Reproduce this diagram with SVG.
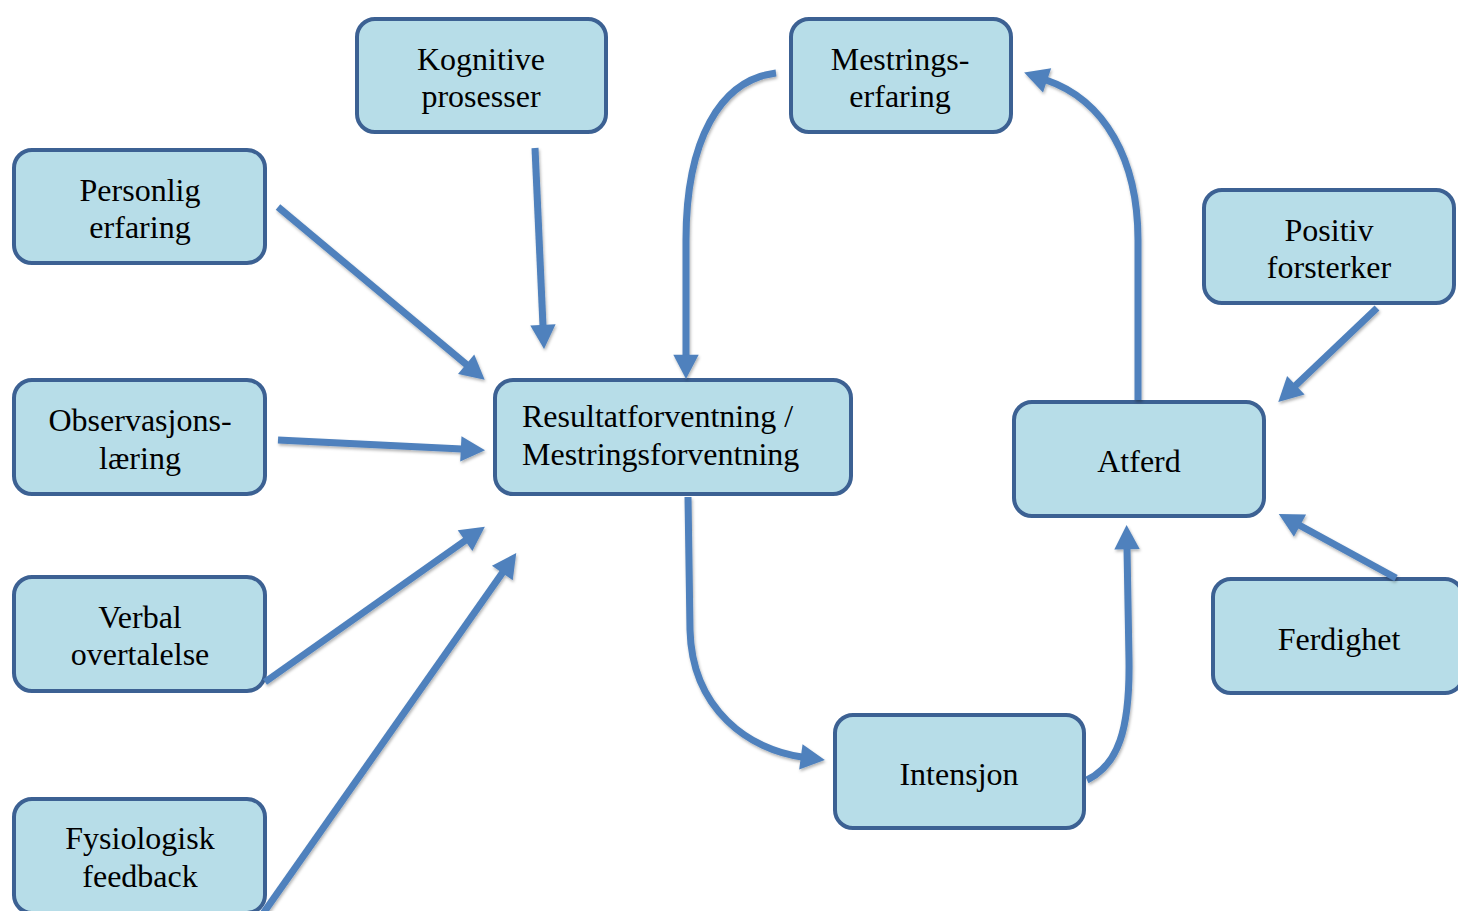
<svg xmlns="http://www.w3.org/2000/svg" width="1458" height="911" viewBox="0 0 1458 911">
<style>
.box{fill:#b7dde8;stroke:#3c6193;stroke-width:4}
.lbl{font-family:"Liberation Serif","Times New Roman",serif;font-size:32px;fill:#000;text-anchor:middle}
.lft{text-anchor:start}
.con{fill:none;stroke:#4f81bd;stroke-width:7;marker-end:url(#ah)}
</style>
<defs>
<marker id="ah" markerUnits="userSpaceOnUse" markerWidth="30" markerHeight="30" viewBox="-2 -13 26 26" refX="1" refY="0" orient="auto">
<path d="M0,-11 L21,0 L0,11 z" fill="#4f81bd"/>
</marker>
<filter id="sh" filterUnits="userSpaceOnUse" x="0" y="0" width="1458" height="911">
<feDropShadow dx="1" dy="2" stdDeviation="1.5" flood-color="#000" flood-opacity="0.3"/>
</filter>
</defs>
<g id="n-kognitive"><rect class="box" x="357" y="19" width="249" height="113" rx="18"/><text class="lbl" x="481" y="70">Kognitive</text><text class="lbl" x="481" y="107">prosesser</text></g>
<g id="n-personlig"><rect class="box" x="14" y="150" width="251" height="113" rx="18"/><text class="lbl" x="140" y="201">Personlig</text><text class="lbl" x="140" y="238">erfaring</text></g>
<g id="n-observasjon"><rect class="box" x="14" y="380" width="251" height="114" rx="18"/><text class="lbl" x="140" y="431">Observasjons-</text><text class="lbl" x="140" y="469">læring</text></g>
<g id="n-verbal"><rect class="box" x="14" y="577" width="251" height="114" rx="18"/><text class="lbl" x="140" y="628">Verbal</text><text class="lbl" x="140" y="665">overtalelse</text></g>
<g id="n-fysiologisk"><rect class="box" x="14" y="799" width="251" height="114" rx="18"/><text class="lbl" x="140" y="849">Fysiologisk</text><text class="lbl" x="140" y="887">feedback</text></g>
<g id="n-resultat"><rect class="box" x="495" y="380" width="356" height="114" rx="18"/><text class="lbl lft" x="522" y="427">Resultatforventning /</text><text class="lbl lft" x="522" y="465">Mestringsforventning</text></g>
<g id="n-mestring"><rect class="box" x="791" y="19" width="220" height="113" rx="18"/><text class="lbl" x="900" y="70">Mestrings-</text><text class="lbl" x="900" y="107">erfaring</text></g>
<g id="n-atferd"><rect class="box" x="1014" y="402" width="250" height="114" rx="18"/><text class="lbl" x="1139" y="472">Atferd</text></g>
<g id="n-positiv"><rect class="box" x="1204" y="190" width="250" height="113" rx="18"/><text class="lbl" x="1329" y="241">Positiv</text><text class="lbl" x="1329" y="278">forsterker</text></g>
<g id="n-ferdighet"><rect class="box" x="1213" y="579" width="250" height="114" rx="18"/><text class="lbl" x="1339" y="650">Ferdighet</text></g>
<g id="n-intensjon"><rect class="box" x="835" y="715" width="249" height="113" rx="18"/><text class="lbl" x="959" y="785">Intensjon</text></g>
<g id="connectors" filter="url(#sh)">
<path class="con" d="M278,207 L467,365"/>
<path class="con" d="M535,148 L543,326"/>
<path class="con" d="M278,440 L462,449"/>
<path class="con" d="M265,682 L466,540"/>
<path class="con" d="M262,915 L503,572"/>
<path class="con" d="M776,73 C720,80 686,140 686,240 L686,356"/>
<path class="con" d="M688,497 L690,630 C692,710 750,750 802,757"/>
<path class="con" d="M1087,780 C1118,765 1130,730 1129,660 L1127,548"/>
<path class="con" d="M1138,400 L1138,240 C1138,160 1105,100 1046,80"/>
<path class="con" d="M1377,308 L1295,386"/>
<path class="con" d="M1396,578 L1299,525"/>
</g>
</svg>
